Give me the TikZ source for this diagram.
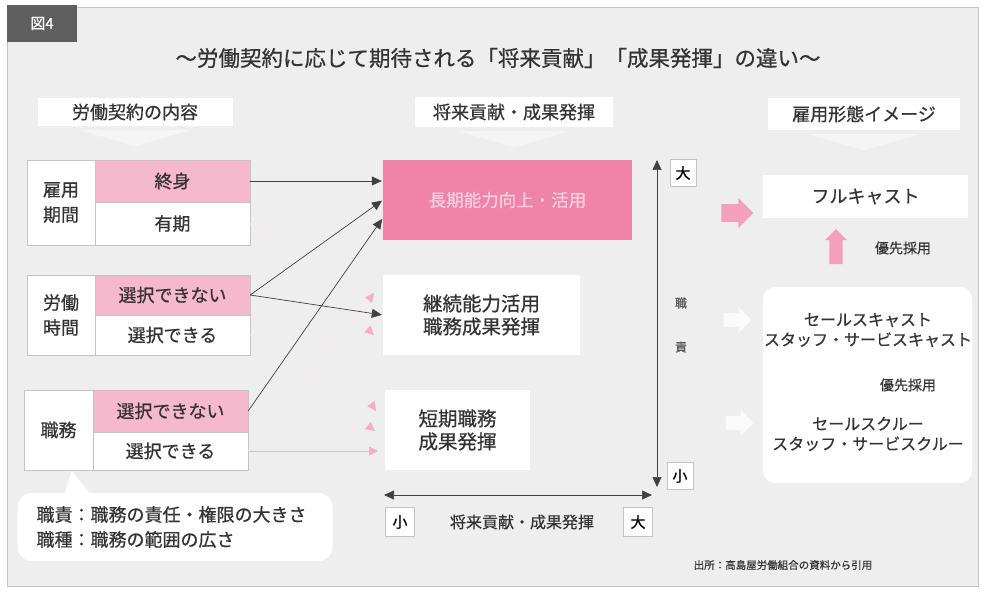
\documentclass[tikz,border=0pt]{standalone}
\usepackage{fontspec}
\setmainfont{Noto Sans CJK JP}[FakeBold=0.6,AutoFakeBold=0.6]
\usetikzlibrary{arrows.meta,shapes.arrows}
\definecolor{bg}{HTML}{EEEEEE}
\definecolor{pinkl}{HTML}{F6B8CC}
\definecolor{pinkd}{HTML}{F084A8}
\definecolor{pinkt}{HTML}{FAD0DE}
\definecolor{pinka}{HTML}{F2A0BC}
\definecolor{ink}{HTML}{333333}
\definecolor{framec}{HTML}{C4C4C4}
\definecolor{tagc}{HTML}{5E5E5E}
\tikzset{
  tA/.style={font=\fontsize{21.5}{26}\selectfont, text=ink},
  tB/.style={font=\fontsize{18}{25}\selectfont, text=ink},
  tC/.style={font=\fontsize{16}{22}\selectfont, text=ink},
  tD/.style={font=\fontsize{14}{18}\selectfont, text=ink},
  tS/.style={font=\fontsize{10.5}{12}\selectfont, text=ink},
  cell/.style={draw=framec, fill=white, inner sep=0pt, align=center, tB},
  pcell/.style={cell, fill=pinkl},
  header/.style={fill=white, inner sep=0pt, tB},
  tagbox/.style={draw=framec, fill=white, inner sep=0pt, minimum width=26, minimum height=27, font=\fontsize{15}{18}\selectfont, text=black},
  arr/.style={draw=black!75, line width=0.7pt, -{Triangle[length=10pt,width=9pt]}, shorten >=1pt},
  faint/.style={draw=pinka!22, line width=0.6pt, -{Triangle[length=9pt,width=9pt,fill=pinka!85,color=pinka!85]}},
  fatarrow/.style={single arrow, single arrow head extend=5pt, inner sep=7pt, minimum height=32, minimum width=30},
}
\begin{document}
\begin{tikzpicture}[x=1pt,y=-1pt]
\useasboundingbox (0,0) rectangle (985,593);
\fill[white] (0,0) rectangle (985,593);
\fill[bg, draw=framec, line width=1pt] (7,8) rectangle (978,586);
% tag
\node[fill=tagc, minimum width=70, minimum height=37, inner sep=0pt, text=white, font=\fontsize{15}{18}\selectfont\bfseries] (tag) at (42,23.5) {図4};
% title
\node[tA] (title) at (498,58) {～労働契約に応じて期待される「将来貢献」「成果発揮」の違い～};
% headers
\node[header, minimum width=195, minimum height=28] (h1) at (135,112) {労働契約の内容};
\node[header, minimum width=198, minimum height=30] (h2) at (514,112) {将来貢献・成果発揮};
\node[header, minimum width=192, minimum height=32] (h3) at (864,114) {雇用形態イメージ};
\foreach \c in {h1,h2,h3}{
  \fill[white, opacity=0.45] ([xshift=-55pt,yshift=-4pt]\c.south) -- ([xshift=55pt,yshift=-4pt]\c.south) -- ([yshift=-20pt]\c.south) -- cycle;
}
% left boxes
\node[cell, minimum width=68, minimum height=85] (l1) at (61,202.5) {雇用\\期間};
\node[pcell, minimum width=155, minimum height=42] (p1) at (172.5,181) {終身};
\node[cell, minimum width=155, minimum height=43] (w1) at (172.5,223.5) {有期};
\node[cell, minimum width=68, minimum height=80] (l2) at (61,315) {労働\\時間};
\node[pcell, minimum width=155, minimum height=40] (p2) at (172.5,295) {選択できない};
\node[cell, minimum width=155, minimum height=40] (w2) at (172.5,335) {選択できる};
\node[cell, minimum width=69, minimum height=80] (l3) at (58.5,430) {職務};
\node[pcell, minimum width=155, minimum height=42] (p3) at (170.5,411) {選択できない};
\node[cell, minimum width=155, minimum height=38] (w3) at (170.5,451) {選択できる};
% callout
\fill[white] (64,494) -- (72,471) -- (90,494) -- cycle;
\node[fill=white, rounded corners=14pt, minimum width=315, minimum height=68, inner sep=0pt] (call) at (175,527) {};
\node[tB, anchor=west, align=left] (calltxt) at (33,527) {職責：職務の責任・権限の大きさ\\職種：職務の範囲の広さ};
% middle boxes
\node[fill=pinkd, minimum width=249, minimum height=80, inner sep=0pt, text=pinkt, font=\fontsize{17.5}{22}\selectfont] (m1) at (507.5,200) {長期能力向上・活用};
\node[cell, draw=none, minimum width=197, minimum height=80, font=\fontsize{19.5}{23}\selectfont] (m2) at (481.5,315) {継続能力活用\\職務成果発揮};
\node[cell, draw=none, minimum width=145, minimum height=80, font=\fontsize{19.5}{23}\selectfont] (m3) at (457.5,430) {短期職務\\成果発揮};
% faint connectors
\coordinate (f1) at (374,335);
\coordinate (f2) at (374,293);
\coordinate (f3) at (376,411);
\coordinate (f4) at (375,431);
\coordinate (f5) at (378,451);
\draw[faint] (w1.east) -- (f1);
\draw[faint] (w3.east) -- (f2);
\draw[faint] (w1.east) -- (f3);
\draw[faint] (w2.east) -- (f4);
\draw[faint, draw=black!22] (w3.east) -- (f5);
% black arrows
\draw[arr] (p1.east) -- (p1.east -| m1.west);
\draw[arr] (p2.east) -- (m1.west);
\draw[arr] (p3.east) -- ([yshift=-18pt]m1.west);
\draw[arr] (p2.east) -- (m2.west);
% axes
\coordinate (vt) at (657,160);
\coordinate (vb) at (657,487);
\coordinate (hl) at (384,495);
\coordinate (hr) at (652,495);
\draw[draw=black!75, line width=0.7pt, {Triangle[length=10pt,width=9pt]}-{Triangle[length=10pt,width=9pt]}] (vt) -- (vb);
\draw[draw=black!75, line width=0.7pt, {Triangle[length=10pt,width=9pt]}-{Triangle[length=10pt,width=9pt]}] (hl) -- (hr);
\node[tagbox] (vbig) at (683,173) {大};
\node[tagbox] (vsmall) at (680,476) {小};
\node[tagbox, minimum width=29, minimum height=29] (hsmall) at (400,522) {小};
\node[tagbox, minimum width=29, minimum height=29] (hbig) at (638,522) {大};
\node[tC] (hlab) at (522,522) {将来貢献・成果発揮};
\node[font=\fontsize{12}{14}\selectfont, text=ink!80] (vl1) at (681,303) {職};
\node[font=\fontsize{12}{14}\selectfont, text=ink!80] (vl2) at (681,347) {責};
% right side
\node[fill=white, minimum width=205, minimum height=43, inner sep=0pt, tB] (full) at (865.5,196.5) {フルキャスト};
\node[fill=white, rounded corners=12pt, minimum width=209, minimum height=196, inner sep=0pt] (rbox) at (867.5,385) {};
\node[tC, align=center] (sc1) at (868,330) {セールスキャスト\\[-2pt]スタッフ・サービスキャスト};
\node[tD] (pri2) at (908,385) {優先採用};
\node[tC, align=center] (sc2) at (868,434) {セールスクルー\\[-2pt]スタッフ・サービスクルー};
\node[fatarrow, fill=pinka] (pa1) at (733,213) {};
\node[fatarrow, fill=pinka, shape border rotate=90, minimum height=35, minimum width=22, inner sep=6pt, single arrow head extend=4pt] (pa2) at (836,250) {};
\node[tD] (pri1) at (903,248) {優先採用};
\node[fatarrow, fill=white, fill opacity=0.75, minimum height=28, minimum width=26, inner sep=6pt] (wa1) at (734,320) {};
\node[fatarrow, fill=white, fill opacity=0.75, minimum height=28, minimum width=26, inner sep=6pt] (wa2) at (736,423) {};
% source
\node[tS] (src) at (783,565) {出所：高島屋労働組合の資料から引用};
\end{tikzpicture}
\end{document}
